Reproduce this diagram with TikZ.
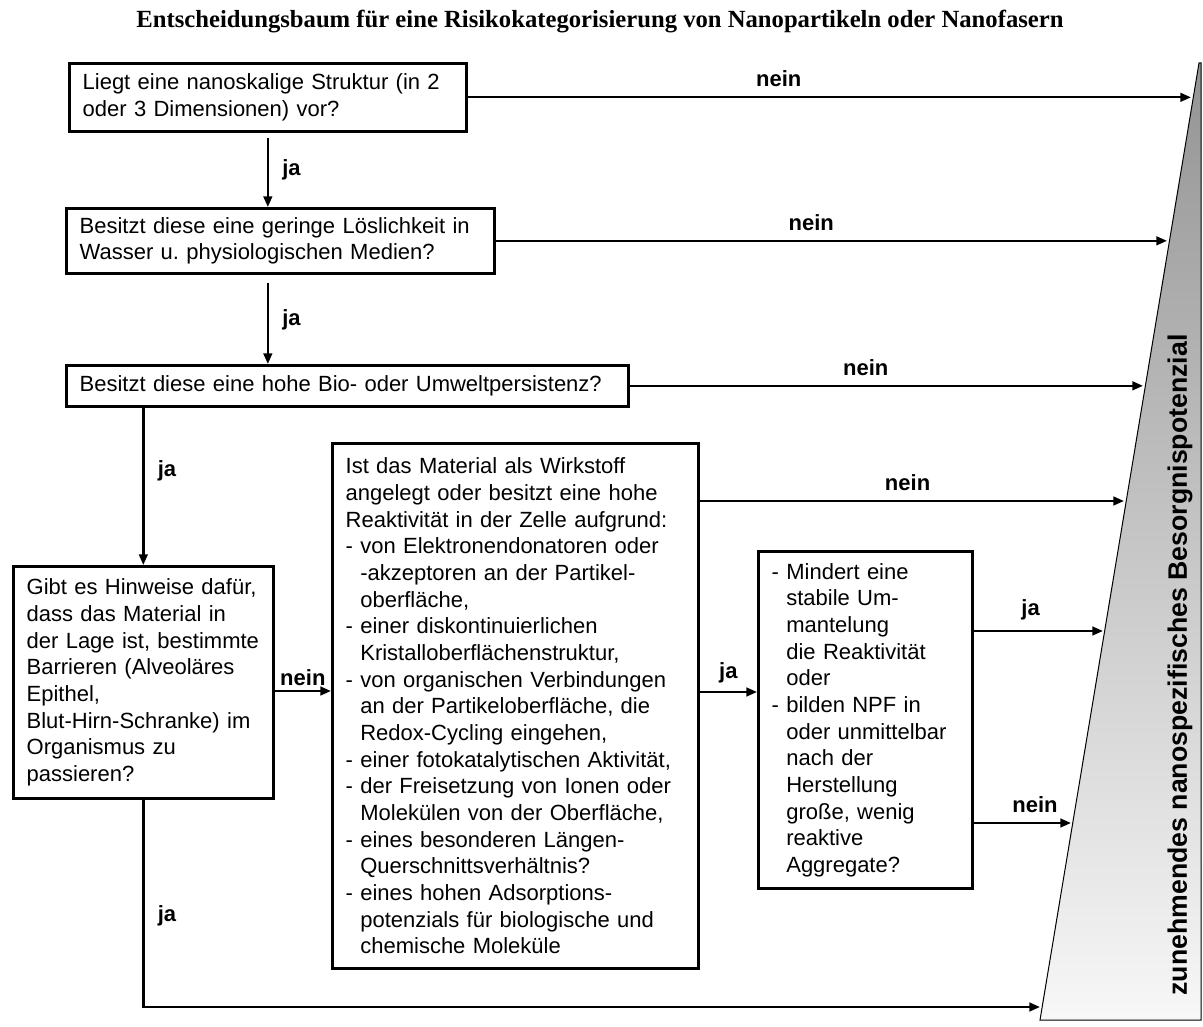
\documentclass[tikz,border=0pt]{standalone}
\usepackage{fontspec}
\setmainfont{Liberation Sans}
\newfontfamily\titlefont{Liberation Serif}
\usetikzlibrary{arrows.meta}

\tikzset{every picture/.style={line width=0.75pt}}
\tikzset{
	qbox/.style={draw, line width=2pt, anchor=north west, align=left, inner xsep=10pt, inner ysep=4pt, font=\fontsize{16.5}{20}\selectfont},
	flow/.style={line width=1.75pt, -{Triangle[length=8pt,width=6.5pt]}},
	lbl/.style={font=\fontsize{16.5}{20}\selectfont\bfseries, inner sep=2pt}}
\newcommand{\hang}{\phantom{- }}

\begin{document}
\begin{tikzpicture}[x=0.75pt,y=0.75pt,yscale=-1,xscale=1]
	\useasboundingbox (0,0) rectangle (1203,1027);

	% Text Node
	\node (title) at (600,22) {\titlefont\bfseries\fontsize{18.5}{22}\selectfont Entscheidungsbaum für eine Risikokategorisierung von Nanopartikeln oder Nanofasern};

	%Shape: Wedge
	\coordinate (wt) at (1199,63);
	\coordinate (wb) at (1040,1020);
	\shade [top color=black!42, bottom color=black!3] (wt) -- (1201,63) -- (1201,1020) -- (wb) -- cycle ;
	\draw [line width=0.75pt] (wt) -- (1201,63) -- (1201,1020) -- (wb) -- cycle ;
	% Text Node
	\node [rotate=90, font=\fontsize{20}{24}\selectfont\bfseries] (scale) at (1180,665) {zunehmendes nanospezifisches Besorgnispotenzial};

	%Shape: Rectangle
	\node [qbox, text width=277.75pt, minimum height=51pt] (b1) at (68,62) {Liegt eine nanoskalige Struktur (in 2\\oder 3 Dimensionen) vor?};
	%Shape: Rectangle
	\node [qbox, text width=301pt, minimum height=48.75pt] (b2) at (65,207) {Besitzt diese eine geringe Löslichkeit in\\Wasser u.\ physiologischen Medien?};
	%Shape: Rectangle
	\node [qbox, text width=401.5pt, minimum height=30.75pt] (b3) at (65,364) {Besitzt diese eine hohe Bio- oder Umweltpersistenz?};
	%Shape: Rectangle
	\node [qbox, text width=175pt, minimum height=174pt] (b4) at (12,565) {Gibt es Hinweise dafür,\\dass das Material in\\der Lage ist, bestimmte\\Barrieren (Alveoläres\\Epithel,\\Blut-Hirn-Schranke) im\\Organismus zu\\passieren?};
	%Shape: Rectangle
	\node [qbox, text width=254.5pt, minimum height=393.75pt] (b5) at (331,442) {Ist das Material als Wirkstoff\\angelegt oder besitzt eine hohe\\Reaktivität in der Zelle aufgrund:\\- von Elektronendonatoren oder\\\hang-akzeptoren an der Partikel-\\\hang oberfläche,\\- einer diskontinuierlichen\\\hang Kristalloberflächenstruktur,\\- von organischen Verbindungen\\\hang an der Partikeloberfläche, die\\\hang Redox-Cycling eingehen,\\- einer fotokatalytischen Aktivität,\\- der Freisetzung von Ionen oder\\\hang Molekülen von der Oberfläche,\\- eines besonderen Längen-\\\hang Querschnittsverhältnis?\\- eines hohen Adsorptions-\\\hang potenzials für biologische und\\\hang chemische Moleküle};
	%Shape: Rectangle
	\node [qbox, text width=140.5pt, minimum height=253pt] (b6) at (757,550) {- Mindert eine\\\hang stabile Um-\\\hang mantelung\\\hang die Reaktivität\\\hang oder\\- bilden NPF in\\\hang oder unmittelbar\\\hang nach der\\\hang Herstellung\\\hang große, wenig\\\hang reaktive\\\hang Aggregate?};

	% arrow ends
	\coordinate (w1) at (1191,96);
	\coordinate (w2) at (1167,240);
	\coordinate (w3) at (1143,385);
	\coordinate (w5) at (1124,501);
	\coordinate (w6) at (1103,631);
	\coordinate (w7) at (1071,823);
	\coordinate (w8) at (1040,1007);
	\coordinate (n4) at (300,691);
	\coordinate (j5) at (720,692);

	%Straight Lines
	\draw [flow] (b1.east) -- (b1.east -| w1) node [lbl, pos=0.43, above=5pt] {nein};
	\draw [flow] (b2.east) -- (b2.east -| w2) node [lbl, pos=0.47, above=5pt] {nein};
	\draw [flow] (b3.east) -- (b3.east -| w3) node [lbl, pos=0.46, above=5pt] {nein};
	\draw [flow] (b5.east |- w5) -- (w5) node [lbl, pos=0.49, above=5pt] {nein};
	\draw [flow] (b6.east |- w6) -- (w6) node [lbl, pos=0.44, above=5pt] {ja};
	\draw [flow] (b6.east |- w7) -- (w7) node [lbl, pos=0.63, above=5pt] {nein};
	\draw [flow] (b4.east |- n4) -- (b5.west |- n4) node [lbl, midway, above=1pt] {nein};
	\draw [flow] (b5.east |- j5) -- (b6.west |- j5) node [lbl, midway, above=4pt] {ja};

	\draw [flow, shorten <=4pt] (b1.south) -- (b1.south |- b2.north) node [lbl, midway, right=8pt] {ja};
	\draw [flow, shorten <=6pt] (b2.south -| b1.south) -- (b3.north -| b1.south) node [lbl, midway, right=8pt] {ja};
	\draw [flow] (b3.south -| b4.north) -- (b4.north) node [lbl, pos=0.4, right=8pt] {ja};
	\draw [flow] (b4.south) |- (w8) node [lbl, pos=0.28, right=8pt] {ja};

\end{tikzpicture}
\end{document}
